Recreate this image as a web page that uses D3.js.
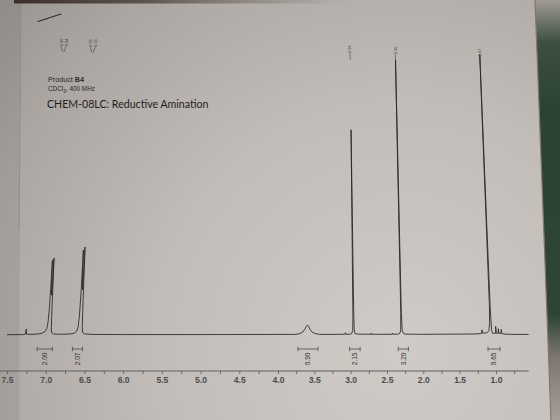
<!DOCTYPE html>
<html>
<head>
<meta charset="utf-8">
<script src="https://cdn.jsdelivr.net/npm/d3@7"></script>
<style>
  body { margin: 0; background: #bdb8b4; }
  svg { display: block; }
</style>
</head>
<body>
<svg id="chart" width="560" height="420"></svg>
<script>
// 1H NMR trace: chemical shift (ppm) and intensity (% of tallest peak)
const traceShift = [7.50, 7.30, 7.262, 7.255, 7.248, 7.20, 7.10, 7.05, 7.01, 6.99, 6.978, 6.970, 6.965,
  6.960, 6.955, 6.950, 6.945, 6.940, 6.936, 6.932, 6.926, 6.90, 6.80, 6.68, 6.63, 6.60, 6.585, 6.575,
  6.567, 6.560, 6.555, 6.550, 6.545, 6.540, 6.536, 6.532, 6.525, 6.50, 6.40, 6.00, 5.00, 4.00, 3.76,
  3.70, 3.66, 3.63, 3.61, 3.595, 3.58, 3.56, 3.53, 3.49, 3.43, 3.30, 3.08, 3.072, 3.066, 3.00, 2.985,
  2.972, 2.966, 2.960, 2.954, 2.949, 2.94, 2.90, 2.72, 2.714, 2.708, 2.55, 2.43, 2.424, 2.418, 2.34,
  2.32, 2.310, 2.304, 2.300, 2.296, 2.290, 2.275, 2.25, 2.00, 1.60, 1.30, 1.20, 1.19, 1.18, 1.12,
  1.095, 1.082, 1.075, 1.070, 1.065, 1.058, 1.045, 1.003, 1.000, 0.995, 0.968, 0.965, 0.960, 0.928,
  0.925, 0.920, 0.88, 0.75, 0.55];
const traceInt = [0.1, 0.15, 0.3, 2.1, 0.3, 0.2, 0.35, 0.6, 1.2, 2.2, 4.5, 9, 16,
  26.3, 17, 14, 18, 27.0, 10, 2.5, 0.8, 0.35, 0.25, 0.35, 0.7, 1.4, 3.0, 7,
  15, 29.8, 19, 16, 20, 30.9, 11, 3, 0.9, 0.4, 0.2, 0.15, 0.15, 0.2, 0.2,
  0.5, 1.0, 2.0, 3.0, 3.5, 3.1, 2.0, 1.0, 0.5, 0.25, 0.2, 0.25, 0.8, 0.25, 0.3, 0.6,
  1.6, 6, 72, 6, 1.4, 0.5, 0.3, 0.25, 0.7, 0.25, 0.25, 0.25, 0.7, 0.25, 0.35,
  0.7, 1.8, 8, 96.5, 8, 1.6, 0.6, 0.3, 0.25, 0.3, 0.35, 0.5, 1.8, 0.6, 0.8,
  1.6, 4.0, 10, 98.5, 10, 1.5, 0.6, 0.6, 3.0, 0.7, 0.6, 2.2, 0.6, 0.6,
  2.0, 0.5, 0.3, 0.2, 0.2];

// peak picks printed above the spectrum
const pickShift = [6.96, 6.94, 6.56, 6.54, 2.96, 2.30, 1.07];
const pickGroup = [0, 0, 1, 1, 2, 3, 4];

// integrals
const integFrom = [7.11, 6.655, 3.725, 3.015, 2.345, 1.11];
const integTo = [6.915, 6.525, 3.45, 2.87, 2.205, 0.945];
const integValue = [2.00, 2.07, 0.90, 2.15, 3.20, 9.65];

// axis ticks (ppm)
const ppmTicks = [7.5, 7.25, 7.0, 6.75, 6.5, 6.25, 6.0, 5.75, 5.5, 5.25, 5.0, 4.75, 4.5, 4.25, 4.0,
  3.75, 3.5, 3.25, 3.0, 2.75, 2.5, 2.25, 2.0, 1.75, 1.5, 1.25, 1.0, 0.75];
const ppmLabels = [7.5, 7.0, 6.5, 6.0, 5.5, 5.0, 4.5, 4.0, 3.5, 3.0, 2.5, 2.0, 1.5, 1.0];

const svg = d3.select("#chart");
const width = +svg.attr("width");
const height = +svg.attr("height");

const baseY = 335;   // baseline of the trace
const axisY = 371;
// the photo is taken at an angle: verticals lean towards a point far above
const VP_X = 292, VP_D = 5000;
const proj = (px, py) => [px + (VP_X - px) * (baseY - py) / VP_D, py];

// slightly uneven spacing from perspective -> polylinear scale
const x = d3.scaleLinear().domain([7.5, 4.0, 1.0]).range([7, 278, 496]);
const y = d3.scaleLinear().domain([0, 100]).range([baseY, 50]);

// ---- paper background ----
const defs = svg.append("defs");
const paper = defs.append("radialGradient").attr("id", "paper")
  .attr("gradientUnits", "userSpaceOnUse")
  .attr("cx", 400).attr("cy", 350).attr("r", 540);
[[0, "#cfcbc7"], [0.45, "#c2bdb9"], [0.8, "#aba6a2"], [1, "#98938f"]].forEach(s =>
  paper.append("stop").attr("offset", s[0]).attr("stop-color", s[1]));

const edge = defs.append("linearGradient").attr("id", "edge")
  .attr("x1", 0).attr("y1", 0).attr("x2", 0).attr("y2", 1);
[[0, "#a19b96"], [0.1, "#3d5042"], [0.25, "#2c4334"], [0.75, "#2e4535"], [0.85, "#7b7670"], [1, "#a59f9a"]]
  .forEach(s => edge.append("stop").attr("offset", s[0]).attr("stop-color", s[1]));

const topBand = defs.append("linearGradient").attr("id", "topband");
[[0, "#3a2f29", 1], [0.4, "#4a3f38", 0.8], [1, "#6b625c", 0]].forEach(s =>
  topBand.append("stop").attr("offset", s[0]).attr("stop-color", s[1]).attr("stop-opacity", s[2]));

svg.append("rect").attr("width", width).attr("height", height).attr("fill", "url(#paper)");

// left page edge, dark top edge, table beyond the right edge
svg.append("path").attr("d", "M0,0L21,0L19,420L0,420Z").attr("fill", "#000").attr("opacity", 0.06);
svg.append("line").attr("x1", 21).attr("y1", 0).attr("x2", 19).attr("y2", 230)
  .attr("stroke", "#86817c").attr("stroke-width", 0.8).attr("opacity", 0.6);
svg.append("rect").attr("x", 14).attr("y", 0).attr("width", 330).attr("height", 3.5).attr("fill", "url(#topband)");
svg.append("path").attr("d", "M535,0L560,0L560,420L551,420Z").attr("fill", "url(#edge)");
svg.append("line").attr("x1", 535).attr("y1", 0).attr("x2", 551).attr("y2", 420)
  .attr("stroke", "#8a7364").attr("stroke-width", 1.2);

// pen mark in the corner
svg.append("line").attr("x1", 38).attr("y1", 21.5).attr("x2", 61).attr("y2", 14)
  .attr("stroke", "#2e2b2a").attr("stroke-width", 1.1).attr("stroke-linecap", "round");

// ---- header text ----
const head = svg.append("g").attr("font-family", "Liberation Sans, Arial, sans-serif").attr("fill", "#2a2a2a");
const t1 = head.append("text").attr("x", 48).attr("y", 82).attr("font-size", 7.2);
t1.append("tspan").text("Product ");
t1.append("tspan").attr("font-weight", "bold").text("B4");
const t2 = head.append("text").attr("x", 48).attr("y", 91).attr("font-size", 6.4);
t2.append("tspan").text("CDCl");
t2.append("tspan").attr("font-size", 4.6).attr("dy", 1.5).text("3");
t2.append("tspan").attr("dy", -1.5).text(", 400 MHz");
head.append("text").attr("x", 47).attr("y", 107.5).attr("font-size", 10.6)
  .attr("font-family", "Lato, Open Sans, sans-serif").attr("fill", "#1e1e1e")
  .text("CHEM-08LC: Reductive Amination");

// ---- spectrum ----
const line = d3.line()
  .x(d => proj(x(d[0]), y(d[1]))[0])
  .y(d => y(d[1]));

svg.append("path")
  .datum(d3.zip(traceShift, traceInt))
  .attr("fill", "none")
  .attr("stroke", "#262626")
  .attr("stroke-width", 0.85)
  .attr("stroke-linejoin", "round")
  .attr("d", line);

// ---- peak picks ----
const labelTop = d3.scaleLinear().domain([60, 480]).range([39, 48.5]);
const fmt2 = d3.format(".2f");
const picks = svg.append("g").attr("font-family", "Liberation Sans, Arial, sans-serif")
  .attr("font-size", 4).attr("fill", "#3a3a3a");

d3.groups(pickShift.map((p, i) => ({ p, g: pickGroup[i] })), d => d.g).forEach(([, members]) => {
  const cx = d3.mean(members, d => x(d.p));
  const top = labelTop(cx);
  members.forEach((m, j) => {
    const off = members.length > 1 ? (j - (members.length - 1) / 2) * 5.2 : 0;
    const lx = cx + off;
    const [px, py] = proj(lx, top + 3.6);
    picks.append("text")
      .attr("transform", `translate(${px},${py}) rotate(-90)`)
      .attr("text-anchor", "middle").attr("dy", "0.35em")
      .text(fmt2(m.p));
    const a = proj(lx, top + 7.6);
    const b = proj(x(m.p), top + (members.length > 1 ? 13 : 14));
    picks.append("line")
      .attr("x1", a[0]).attr("y1", a[1]).attr("x2", b[0]).attr("y2", b[1])
      .attr("stroke", "#3a3a3a").attr("stroke-width", 0.6);
  });
});

// ---- integrals ----
const integ = svg.append("g").attr("stroke", "#3a3a3a").attr("stroke-width", 0.7);
const iy = 349;
integFrom.forEach((f, i) => {
  const x1 = x(f), x2 = x(integTo[i]);
  integ.append("line").attr("x1", x1).attr("x2", x2).attr("y1", iy).attr("y2", iy);
  integ.append("line").attr("x1", x1).attr("x2", x1).attr("y1", iy - 2.2).attr("y2", iy + 2.2);
  integ.append("line").attr("x1", x2).attr("x2", x2).attr("y1", iy - 2.2).attr("y2", iy + 2.2);
  svg.append("text")
    .attr("transform", `translate(${(x1 + x2) / 2},${iy + 3.5}) rotate(-90)`)
    .attr("text-anchor", "end").attr("dy", "0.35em")
    .attr("font-family", "Liberation Sans, Arial, sans-serif")
    .attr("font-size", 6.6).attr("fill", "#333")
    .text(fmt2(integValue[i]));
});

// ---- ppm axis ----
const axis = d3.axisBottom(x)
  .tickValues(ppmTicks)
  .tickSize(3)
  .tickPadding(3)
  .tickFormat(d => ppmLabels.includes(d) ? d3.format(".1f")(d) : "");

const ax = svg.append("g").attr("transform", `translate(0,${axisY})`).call(axis);
ax.select(".domain").remove();
ax.append("line").attr("x1", x(7.6)).attr("x2", x(0.55)).attr("y1", 0).attr("y2", 0)
  .attr("stroke", "#555").attr("stroke-width", 0.9);
ax.selectAll(".tick line").attr("stroke", "#555").attr("stroke-width", 0.8);
ax.selectAll(".tick text")
  .attr("fill", "#4c4c4c")
  .attr("font-family", "Liberation Sans, Arial, sans-serif")
  .attr("font-size", 8.6)
  .attr("font-weight", "bold");
</script>
</body>
</html>
